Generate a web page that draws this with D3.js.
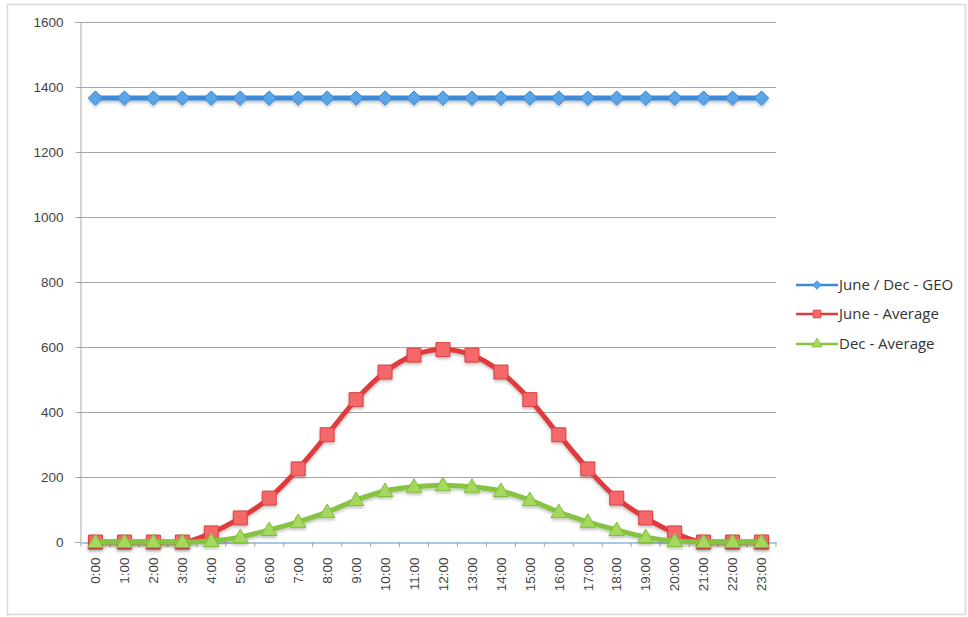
<!DOCTYPE html>
<html>
<head>
<meta charset="utf-8">
<script src="https://cdn.jsdelivr.net/npm/d3@7"></script>
<style>
  html, body { margin: 0; padding: 0; background: #fff; }
  svg { display: block; font-family: "Open Sans", "Liberation Sans", sans-serif; }
</style>
</head>
<body>
<svg id="chart" width="968" height="617"></svg>
<script>
// Hourly categories
const hours = ["0:00","1:00","2:00","3:00","4:00","5:00","6:00","7:00","8:00","9:00","10:00","11:00",
               "12:00","13:00","14:00","15:00","16:00","17:00","18:00","19:00","20:00","21:00","22:00","23:00"];

// Irradiance values (W/m²) per hour
const geoValues  = [1366,1366,1366,1366,1366,1366,1366,1366,1366,1366,1366,1366,
                    1366,1366,1366,1366,1366,1366,1366,1366,1366,1366,1366,1366];
const juneValues = [0,0,0,0,28,74,135,225,330,438,523,575,592,575,523,438,330,225,135,74,28,0,0,0];
const decValues  = [0,0,0,0,3,15,37,62,92,129,157,170,175,170,157,129,92,62,37,15,3,0,0,0];

const yTicks = [0,200,400,600,800,1000,1200,1400,1600];
const seriesNames = ["June / Dec - GEO","June - Average","Dec - Average"];

const svg = d3.select("#chart");
const W = 968, H = 617;

// outer frame
svg.append("rect").attr("x", 7.5).attr("y", 4.5).attr("width", W - 10).attr("height", H - 7)
  .attr("fill", "#fff").attr("stroke", "#d8d8d8").attr("stroke-width", 1.5);

const plot = { left: 81, right: 776, top: 22, bottom: 542 };

const x = d3.scaleBand().domain(hours).range([plot.left, plot.right]);
const y = d3.scaleLinear().domain([0, 1600]).range([plot.bottom, plot.top]);
const cx = d => x(d) + x.bandwidth() / 2;

// gridlines
svg.append("g").selectAll("line").data(yTicks.filter(t => t > 0)).join("line")
  .attr("x1", plot.left - 5).attr("x2", plot.right)
  .attr("y1", d => Math.round(y(d)) + 0.5).attr("y2", d => Math.round(y(d)) + 0.5)
  .attr("stroke", "#a6a6a6").attr("stroke-width", 1);

// y axis
const yAxis = svg.append("g").attr("transform", `translate(${plot.left - 0.5},0)`)
  .call(d3.axisLeft(y).tickValues(yTicks).tickFormat(d3.format("d")).tickSize(5).tickPadding(12));
yAxis.select(".domain").attr("stroke", "#a6a6a6");
yAxis.selectAll(".tick line").attr("stroke", "#a6a6a6");
yAxis.selectAll("text").attr("fill", "#444").attr("font-size", 13.5);

// x axis
const xAxis = svg.append("g").attr("transform", `translate(0,${plot.bottom + 0.5})`)
  .call(d3.axisBottom(x).tickSize(0).tickPadding(0));
xAxis.select(".domain").attr("stroke", "#8ab4e0").attr("stroke-width", 1.5);
xAxis.selectAll("text")
  .attr("fill", "#444").attr("font-size", 13.5)
  .attr("transform", "rotate(-90)")
  .attr("text-anchor", "end")
  .attr("x", -15).attr("y", 0).attr("dy", "0.35em");
// tick marks between categories
svg.append("g").selectAll("line").data(d3.range(hours.length + 1)).join("line")
  .attr("x1", i => plot.left + i * x.step()).attr("x2", i => plot.left + i * x.step())
  .attr("y1", plot.bottom).attr("y2", plot.bottom + 5)
  .attr("stroke", "#a6a6a6");

// shadow filter
const defs = svg.append("defs");
const f = defs.append("filter").attr("id", "shadow").attr("x", "-10%").attr("y", "-10%")
  .attr("width", "120%").attr("height", "130%");
f.append("feDropShadow").attr("dx", 0).attr("dy", 2).attr("stdDeviation", 1.5)
  .attr("flood-color", "#000").attr("flood-opacity", 0.25);

const series = [
  { name: seriesNames[0], values: geoValues,  line: "#3d8bd8", fill: "#5aa5ea", stroke: "#3a82cc", shape: "diamond" },
  { name: seriesNames[1], values: juneValues, line: "#df3a3d", fill: "#f4676a", stroke: "#d9403f", shape: "square" },
  { name: seriesNames[2], values: decValues,  line: "#86c341", fill: "#a6d860", stroke: "#7fbf3b", shape: "triangle" }
];

const symbolFor = {
  diamond: d3.symbol().type(d3.symbolDiamond2 || d3.symbolDiamond).size(130),
  square: d3.symbol().type(d3.symbolSquare).size(195),
  triangle: d3.symbol().type(d3.symbolTriangle).size(105)
};

const line = d3.line().x((d, i) => cx(hours[i])).y(d => y(d)).curve(d3.curveMonotoneX);

series.forEach(s => {
  const g = svg.append("g").attr("filter", "url(#shadow)");
  g.append("path").datum(s.values).attr("d", line)
    .attr("fill", "none").attr("stroke", s.line).attr("stroke-width", 5)
    .attr("stroke-linejoin", "round");
  g.selectAll("path.m").data(s.values).join("path").attr("class", "m")
    .attr("d", symbolFor[s.shape])
    .attr("transform", (d, i) => `translate(${cx(hours[i])},${y(d) + (s.shape === "triangle" ? 1 : 0)})`)
    .attr("fill", s.fill).attr("stroke", s.stroke).attr("stroke-width", 1);
});

// legend
const legend = svg.append("g");
const legY = [285, 314, 344];
series.forEach((s, i) => {
  const g = legend.append("g").attr("transform", `translate(796,${legY[i]})`);
  g.append("line").attr("x1", 0).attr("x2", 42).attr("y1", 0).attr("y2", 0)
    .attr("stroke", s.line).attr("stroke-width", 2.5);
  g.append("path").attr("d", d3.symbol().type(
      s.shape === "diamond" ? (d3.symbolDiamond2 || d3.symbolDiamond) :
      s.shape === "square" ? d3.symbolSquare : d3.symbolTriangle).size(s.shape === "square" ? 60 : 45))
    .attr("transform", "translate(21,0)")
    .attr("fill", s.fill).attr("stroke", s.stroke).attr("stroke-width", 0.8);
  g.append("text").attr("x", 43).attr("y", 0).attr("dy", "0.35em")
    .attr("font-size", 15).attr("fill", "#333").text(s.name);
});
</script>
</body>
</html>
